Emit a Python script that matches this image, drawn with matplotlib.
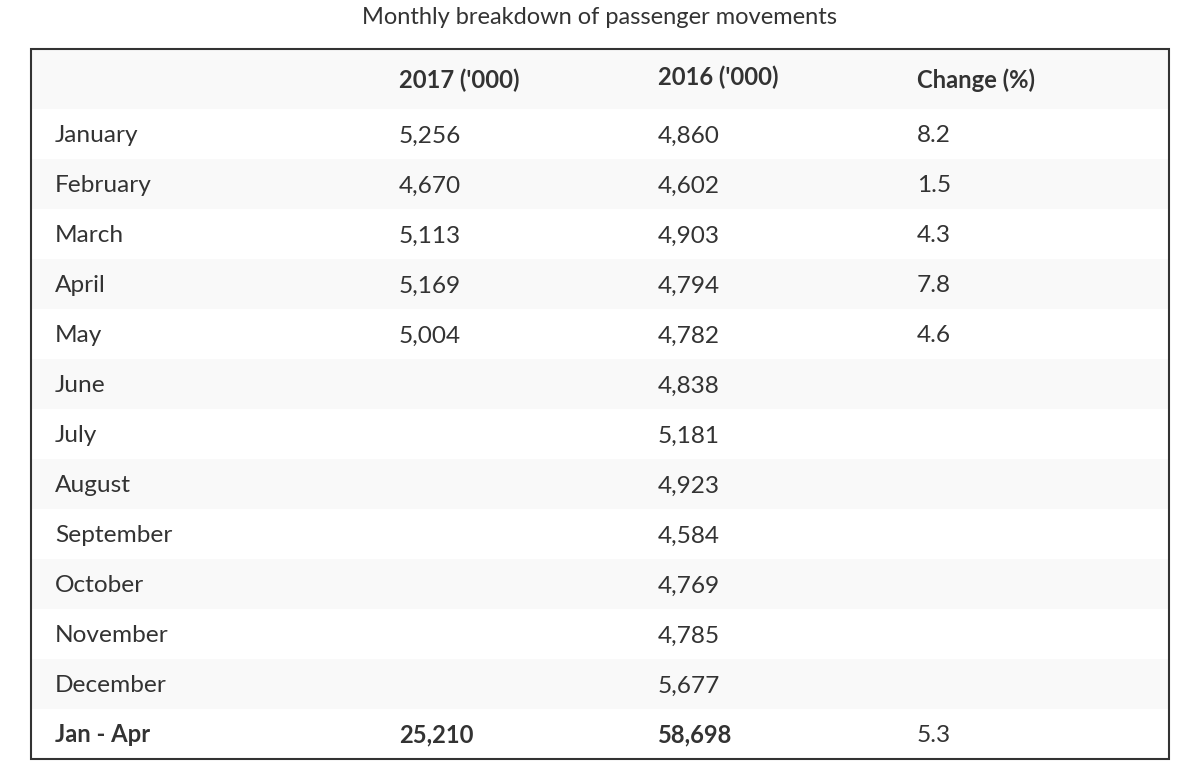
import matplotlib
matplotlib.use("Agg")
import matplotlib.pyplot as plt
from matplotlib.patches import Rectangle

title = "Monthly breakdown of passenger movements"
columns = ["", "2017 ('000)", "2016 ('000)", "Change (%)"]
months = ["January", "February", "March", "April", "May", "June", "July",
          "August", "September", "October", "November", "December"]
values_2017 = ["5,256", "4,670", "5,113", "5,169", "5,004", "", "", "", "", "", "", ""]
values_2016 = ["4,860", "4,602", "4,903", "4,794", "4,782", "4,838", "5,181",
               "4,923", "4,584", "4,769", "4,785", "5,677"]
change_pct = ["8.2", "1.5", "4.3", "7.8", "4.6", "", "", "", "", "", "", ""]
total_row = ["Jan - Apr", "25,210", "58,698", "5.3"]

plt.rcParams['font.family'] = ['Lato', 'DejaVu Sans']
W, H = 1198, 776
fig = plt.figure(figsize=(W / 100, H / 100), dpi=100)
ax = fig.add_axes([0, 0, 1, 1])
ax.set_xlim(0, W)
ax.set_ylim(H, 0)
ax.axis('off')

txt = '#333333'
stripe = '#f9f9f9'
left, right = 31, 1169
top = 49
header_h = 60
row_h = 50
col_x = [55, 399, 658, 917]
header_base = [88, 88, 85, 88]
fs = 17.6
fs_bold = 17.1

ax.text(W / 2, 24, title, ha='center', va='baseline', fontsize=17, color=txt)

# header
ax.add_patch(Rectangle((left, top), right - left, header_h, facecolor=stripe, edgecolor='none', zorder=1))
for x, yb, c in zip(col_x, header_base, columns):
    ax.text(x, yb, c, ha='left', va='baseline', fontsize=fs_bold,
            fontweight='bold', color=txt, zorder=3)

rows = [[m, a, b, c] for m, a, b, c in zip(months, values_2017, values_2016, change_pct)]
rows.append(total_row)
for i, r in enumerate(rows):
    y0 = top + header_h + i * row_h
    if i % 2 == 1:
        ax.add_patch(Rectangle((left, y0), right - left, row_h, facecolor=stripe,
                               edgecolor='none', zorder=1))
    last = (i == len(rows) - 1)
    for j, (x, v) in enumerate(zip(col_x, r)):
        bold = last and j < 3
        ax.text(x, y0 + 33.5, v, ha='left', va='baseline',
                fontsize=fs_bold if bold else fs,
                fontweight='bold' if bold else 'normal', color=txt, zorder=3)

bottom = top + header_h + len(rows) * row_h
ax.add_patch(Rectangle((left, top), right - left, bottom - top, facecolor='none',
                       edgecolor='#333333', linewidth=1.5, zorder=4))

fig.savefig('out.png', dpi=100)
